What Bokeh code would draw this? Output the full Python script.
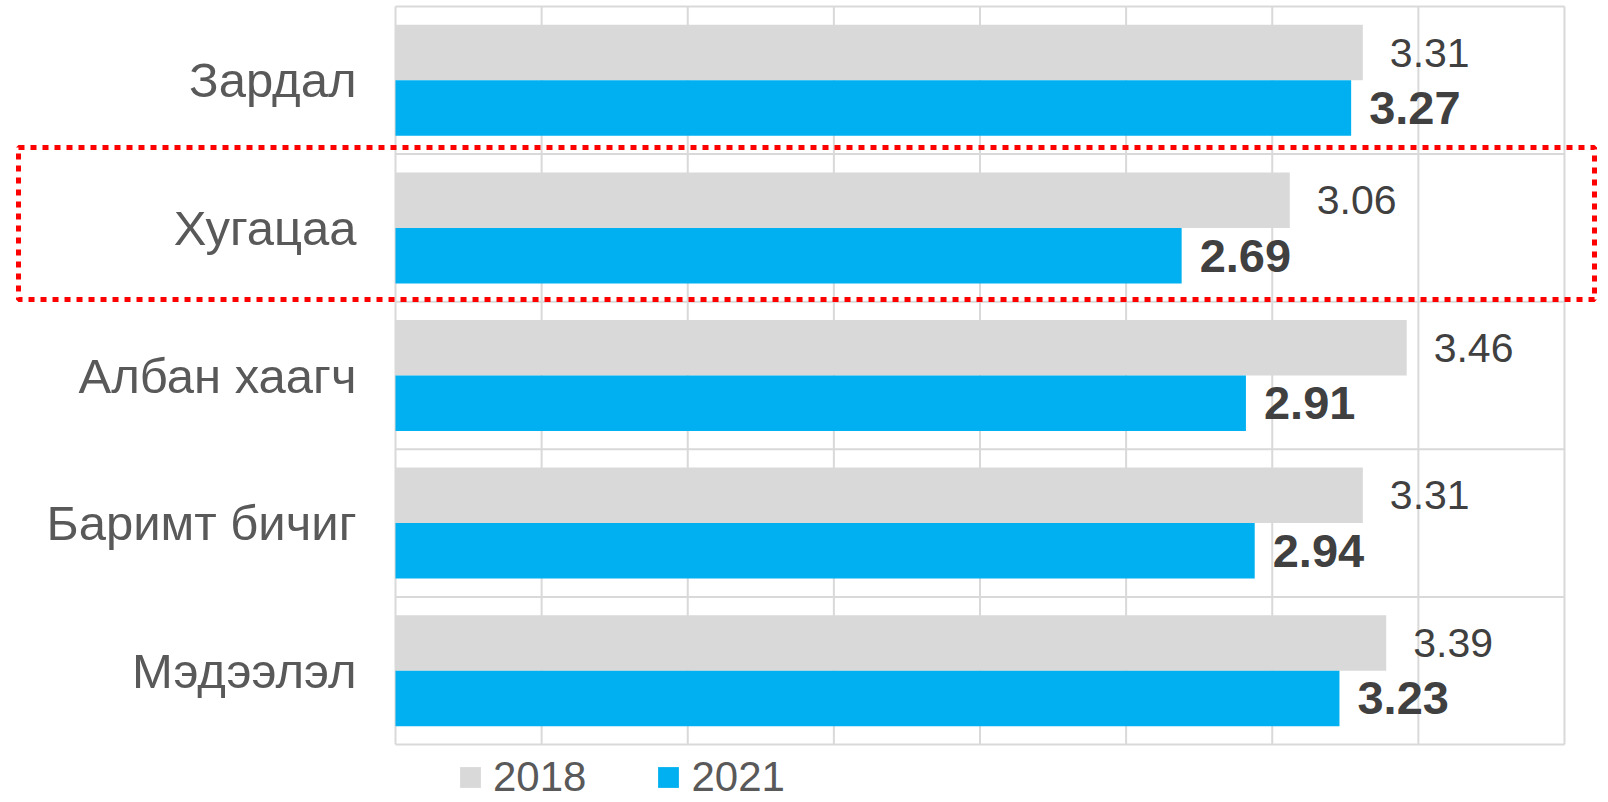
from bokeh.plotting import figure
from bokeh.models import Range1d, Legend, LegendItem, ColumnDataSource
from bokeh.core.properties import value
from bokeh.embed import file_html
from bokeh.resources import INLINE

# ---- data ----
categories = ["Зардал", "Хугацаа", "Албан хаагч", "Баримт бичиг", "Мэдээлэл"]
values_2018 = [3.31, 3.06, 3.46, 3.31, 3.39]
values_2021 = [3.27, 2.69, 2.91, 2.94, 3.23]
series_labels = ["2018", "2021"]
x_ticks = [0.0, 0.5, 1.0, 1.5, 2.0, 2.5, 3.0, 3.5, 4.0]
highlight = "Хугацаа"

# ---- style ----
FONT = "Liberation Sans"
GRAY = "#D9D9D9"
BLUE = "#00B0F0"
GRID = "#D9D9D9"
TXT = "#595959"
VAL = "#404040"

W, H = 1608, 802
x_min, x_max = x_ticks[0], x_ticks[-1]
n = len(categories)
idx = list(range(n))

p = figure(width=W, height=H, output_backend="svg", toolbar_location=None,
           x_range=Range1d(-1.3516, 4.1506), y_range=Range1d(4.893, -0.5407),
           x_axis_type=None, y_axis_type=None, min_border=0,
           outline_line_color=None, background_fill_color="white")
p.grid.visible = False

# gridlines / plot area frame
p.segment(x0=x_ticks, x1=x_ticks, y0=[-0.5] * len(x_ticks), y1=[n - 0.5] * len(x_ticks),
          line_color=GRID, line_width=2)
hy = [i - 0.5 for i in range(n + 1)]
p.segment(x0=[x_min] * len(hy), x1=[x_max] * len(hy), y0=hy, y1=hy,
          line_color=GRID, line_width=2)

bh = 0.376
off = bh / 2
src = ColumnDataSource(dict(
    cat=categories, i=idx,
    y18=[i - off for i in idx], y21=[i + off for i in idx],
    v18=values_2018, v21=values_2021,
    t18=[f"{v:.2f}" for v in values_2018], t21=[f"{v:.2f}" for v in values_2021],
))

r18 = p.hbar(y="y18", right="v18", left=0, height=bh, source=src,
             fill_color=GRAY, line_color=None)
r21 = p.hbar(y="y21", right="v21", left=0, height=bh, source=src,
             fill_color=BLUE, line_color=None)

# value labels
p.text(x="v18", y="y18", text="t18", source=src, x_offset=27,
       text_font=value(FONT), text_font_size="41px", text_color=VAL,
       text_align="left", text_baseline="middle")
p.text(x="v21", y="y21", text="t21", source=src, x_offset=18,
       text_font=value(FONT), text_font_size="47px", text_font_style="bold",
       text_color=VAL, text_align="left", text_baseline="middle")

# category labels
p.text(x=[x_min] * n, y=idx, text=categories, x_offset=-39,
       text_font=value(FONT), text_font_size="49px", text_color=TXT,
       text_align="right", text_baseline="middle")

# highlight box (red dotted)
h = categories.index(highlight)
p.quad(left=[-1.290], right=[4.1027], top=[h - 0.545], bottom=[h + 0.485],
       fill_alpha=0, line_color="#FF0000", line_width=5, line_dash="6 6")

legend = Legend(items=[LegendItem(label=series_labels[0], renderers=[r18]),
                       LegendItem(label=series_labels[1], renderers=[r21])],
                orientation="horizontal", location=(457, 1),
                glyph_width=26, glyph_height=26, label_standoff=10, spacing=69,
                padding=0, margin=0, border_line_color=None,
                background_fill_alpha=0,
                label_text_font=FONT, label_text_font_size="42px",
                label_text_color=TXT)
p.add_layout(legend)

open("out.html", "w").write(file_html(p, INLINE))
